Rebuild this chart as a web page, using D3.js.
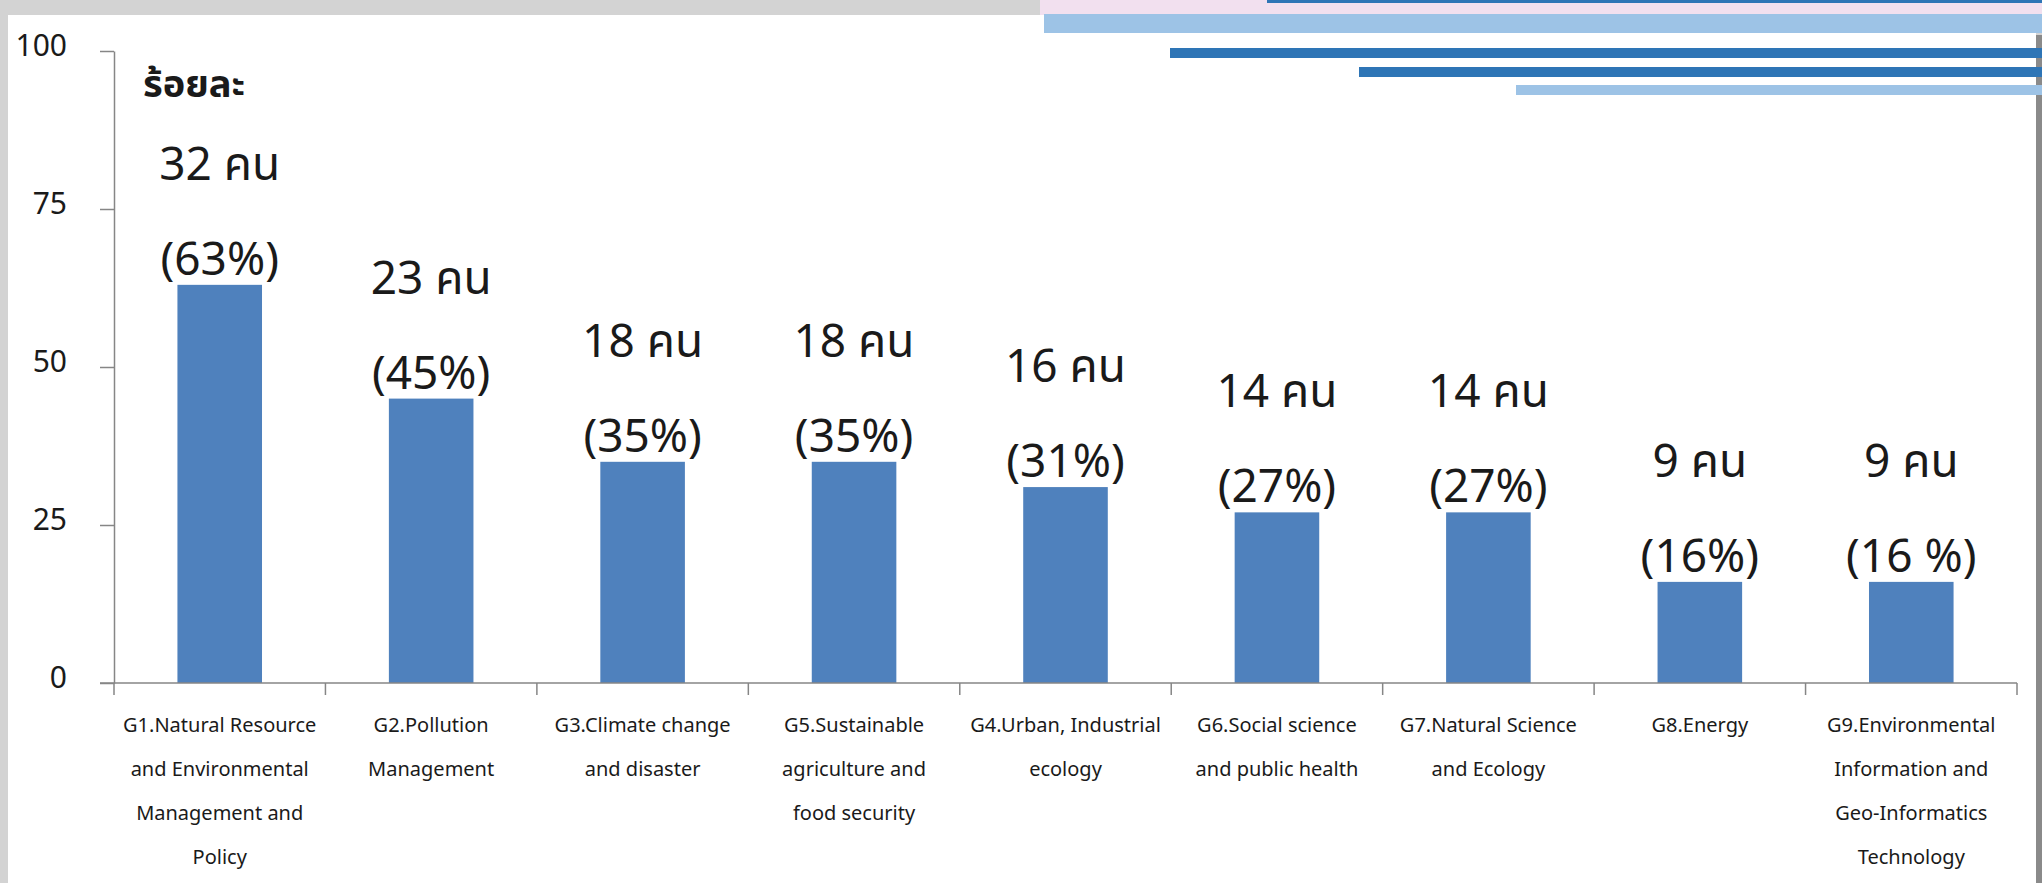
<!DOCTYPE html>
<html>
  <head>
    <meta charset="UTF-8">
    <script src="https://cdn.jsdelivr.net/npm/d3@7/dist/d3.min.js"></script>
    <style>
      body { margin: 0; background: #ffffff; }
      text { font-family: "Noto Sans Thai", "Noto Sans", "DejaVu Sans", sans-serif; fill: #1a1a1a; }
    </style>
  </head>
  <body>
    <svg id="chart" width="2042" height="883"></svg>
    <script type="text/javascript">
      // data
      var categories = [
        ['G1.Natural Resource', 'and Environmental', 'Management and', 'Policy'],
        ['G2.Pollution', 'Management'],
        ['G3.Climate change', 'and disaster'],
        ['G5.Sustainable', 'agriculture and', 'food security'],
        ['G4.Urban, Industrial', 'ecology'],
        ['G6.Social science', 'and public health'],
        ['G7.Natural Science', 'and Ecology'],
        ['G8.Energy'],
        ['G9.Environmental', 'Information and', 'Geo-Informatics', 'Technology']
      ];
      var percents = [63, 45, 35, 35, 31, 27, 27, 16, 16];
      var people = [32, 23, 18, 18, 16, 14, 14, 9, 9];
      var pctLabels = ['(63%)', '(45%)', '(35%)', '(35%)', '(31%)', '(27%)', '(27%)', '(16%)', '(16 %)'];
      var yTicks = [0, 25, 50, 75, 100];

      var svg = d3.select('#chart');

      // slide frame and the stripes at the top right
      svg.append('rect').attr('width', 2042).attr('height', 883).attr('fill', '#d3d3d3');
      svg.append('rect').attr('x', 8).attr('y', 15).attr('width', 2028).attr('height', 868).attr('fill', '#ffffff');
      svg.append('rect').attr('x', 2036).attr('y', 35).attr('width', 6).attr('height', 848).attr('fill', '#8a8a8a');
      svg.append('rect').attr('x', 1040).attr('y', 0).attr('width', 1002).attr('height', 15).attr('fill', '#f2e0ef');
      svg.append('rect').attr('x', 1267).attr('y', 0).attr('width', 775).attr('height', 3).attr('fill', '#2e75b6');
      svg.append('rect').attr('x', 1044).attr('y', 14).attr('width', 998).attr('height', 19).attr('fill', '#9dc3e6');
      svg.append('rect').attr('x', 1170).attr('y', 48).attr('width', 872).attr('height', 10).attr('fill', '#2e75b6');
      svg.append('rect').attr('x', 1359).attr('y', 67).attr('width', 683).attr('height', 10).attr('fill', '#2e75b6');
      svg.append('rect').attr('x', 1516).attr('y', 85).attr('width', 526).attr('height', 10).attr('fill', '#9dc3e6');

      var plotLeft = 114, plotRight = 2017, plotTop = 51, plotBottom = 683;
      var idx = d3.range(categories.length);

      var x = d3.scaleBand().domain(idx).range([plotLeft, plotRight]).paddingInner(0.6).paddingOuter(0.3);
      var xCat = d3.scaleBand().domain(idx).range([plotLeft, plotRight]);
      var y = d3.scaleLinear().domain([0, 100]).range([plotBottom, plotTop]);

      // bars
      svg.append('g').selectAll('rect')
        .data(idx).enter().append('rect')
        .attr('x', function(i) { return x(i); })
        .attr('width', x.bandwidth())
        .attr('y', function(i) { return y(percents[i]); })
        .attr('height', function(i) { return y(0) - y(percents[i]); })
        .attr('fill', '#4f81bd');

      // y axis
      var yAxis = svg.append('g')
        .attr('transform', 'translate(' + plotLeft + ',0)')
        .call(d3.axisLeft(y).tickValues(yTicks).tickSize(14).tickSizeOuter(0).tickPadding(33));
      yAxis.select('.domain').attr('stroke', '#868686').attr('stroke-width', 1.5);
      yAxis.selectAll('.tick line').attr('stroke', '#868686').attr('stroke-width', 1.5);
      yAxis.selectAll('.tick text')
        .attr('font-size', 30).attr('dy', '0.15em')
        .style('font-family', '"Noto Sans", sans-serif').attr('fill', '#1a1a1a');

      // x axis: line, ticks between categories
      svg.append('line')
        .attr('x1', plotLeft - 14).attr('x2', plotRight)
        .attr('y1', plotBottom).attr('y2', plotBottom)
        .attr('stroke', '#868686').attr('stroke-width', 1.5);
      svg.append('g').selectAll('line')
        .data(idx.concat([categories.length])).enter().append('line')
        .attr('x1', function(i) { return i < categories.length ? xCat(i) : plotRight; })
        .attr('x2', function(i) { return i < categories.length ? xCat(i) : plotRight; })
        .attr('y1', plotBottom).attr('y2', plotBottom + 12)
        .attr('stroke', '#868686').attr('stroke-width', 1.5);

      // category labels
      var cx = function(i) { return xCat(i) + xCat.bandwidth() / 2; };
      svg.append('g').selectAll('text')
        .data(idx).enter().append('text')
        .attr('text-anchor', 'middle')
        .attr('font-size', 20)
        .each(function(i) {
          d3.select(this).selectAll('tspan')
            .data(categories[i]).enter().append('tspan')
            .attr('x', cx(i))
            .attr('y', function(s, k) { return 732 + k * 44; })
            .text(function(s) { return s; });
        });

      // value labels: people count and percent
      var lbl = svg.append('g').selectAll('g')
        .data(idx).enter().append('g');
      lbl.append('text')
        .attr('text-anchor', 'middle').attr('font-size', 46)
        .attr('x', cx)
        .attr('y', function(i) { return y(percents[i]) - 10 - 95; })
        .text(function(i) { return people[i] + ' คน'; });
      lbl.append('text')
        .attr('text-anchor', 'middle').attr('font-size', 46)
        .attr('x', cx)
        .attr('y', function(i) { return y(percents[i]) - 10; })
        .text(function(i) { return pctLabels[i]; });

      // unit label
      svg.append('text')
        .attr('x', 143).attr('y', 97)
        .attr('font-size', 38).attr('font-weight', 'bold')
        .text('ร้อยละ');
    </script>
  </body>
</html>
